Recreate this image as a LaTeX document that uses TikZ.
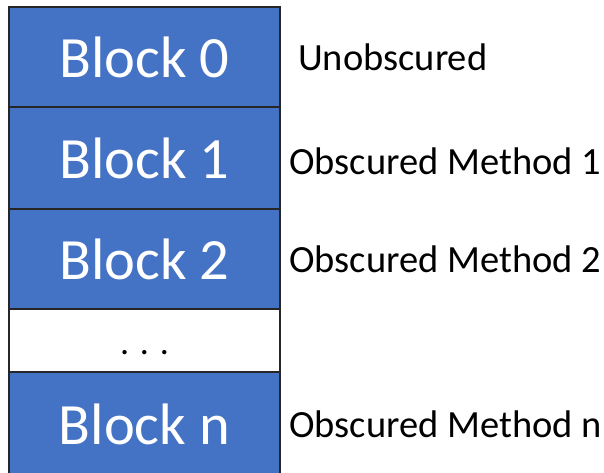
\documentclass[tikz,border=0pt]{standalone}
\usepackage{fontspec}
\setmainfont{Carlito}
\definecolor{blockblue}{HTML}{4472C4}
\begin{document}
\begin{tikzpicture}[x=1pt,y=-1pt,
  blk/.style={draw=black!85,line width=1.3pt,fill=blockblue,minimum width=271pt,inner sep=0pt,text=white,font=\fontsize{58.5}{62}\selectfont},
  gap/.style={draw=black!85,line width=1.3pt,fill=white,minimum width=271pt,inner sep=0pt},
  lbl/.style={anchor=west,inner sep=0pt,font=\fontsize{38.5}{42}\selectfont}]
\useasboundingbox (0,0) rectangle (604,472);
\node[blk,minimum height=100pt] (b0) at (144.5,57) {Block 0};
\node[blk,minimum height=102pt] (b1) at (144.5,158) {Block 1};
\node[blk,minimum height=100pt] (b2) at (144.5,259) {Block 2};
\node[gap,minimum height=63pt] (dots) at (144.5,340.5) {};
\node[font=\fontsize{36}{36}\selectfont] (dt) at (144.5,353) {. . .};
\node[blk,minimum height=104pt] (bn) at (144.5,424) {Block n};
\node[lbl] (l0) at (298,57) {Unobscured};
\node[lbl] (l1) at (289,161) {Obscured Method 1};
\node[lbl] (l2) at (289,259) {Obscured Method 2};
\node[lbl] (ln) at (289,424) {Obscured Method n};
\end{tikzpicture}
\end{document}
